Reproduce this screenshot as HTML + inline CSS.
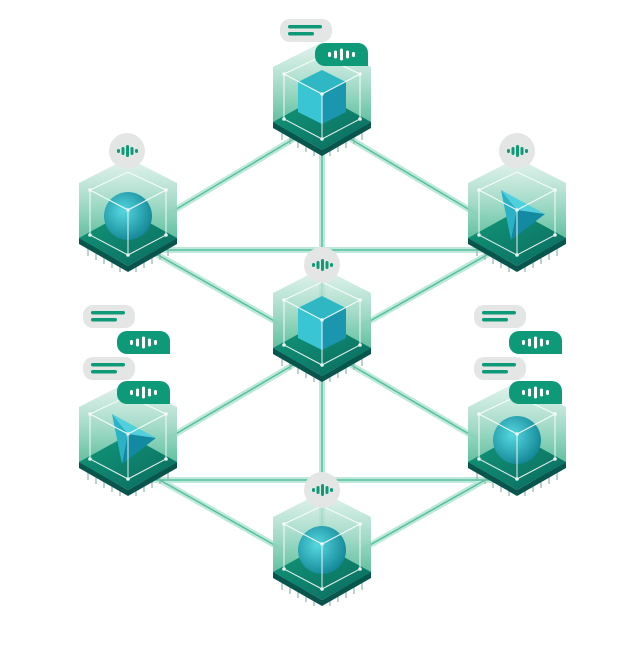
<!DOCTYPE html>
<html><head><meta charset="utf-8"><style>html,body{margin:0;padding:0;background:#fff}svg{display:block}</style></head>
<body>
<svg width="641" height="655" viewBox="0 0 641 655" xmlns="http://www.w3.org/2000/svg">
<defs>
<linearGradient id="hex" x1="0" y1="0" x2="0" y2="1">
<stop offset="0" stop-color="#d6eee5" stop-opacity="0.7"/><stop offset="0.6" stop-color="#7fcdb2"/><stop offset="1" stop-color="#3aa886"/></linearGradient>
<linearGradient id="chipTop" x1="0" y1="0" x2="1" y2="1">
<stop offset="0" stop-color="#12987a"/><stop offset="1" stop-color="#0a6a5e"/></linearGradient>
<radialGradient id="sph" cx="0.4" cy="0.4" r="0.7"><stop offset="0" stop-color="#56d8e0"/><stop offset="1" stop-color="#0d7f90"/></radialGradient>
<g id="chip">
<g stroke="#8fb5aa" stroke-width="1.2">
<path d="M-40 8v10M-32 12v10M-24 16v10M-16 20v10M-8 24v10M40 8v10M32 12v10M24 16v10M16 20v10M8 24v10"/></g>
<polygon points="0,-80 49,-55 49,2 0,27 -49,2 -49,-55" fill="url(#hex)"/>
<polygon points="-49,0 0,28 49,0 49,6 0,34 -49,6" fill="#08554d"/>
<polygon points="-49,0 0,-27 49,0 0,28" fill="url(#chipTop)"/>
</g>
<g id="wire" stroke="#fff" stroke-width="1" fill="none" opacity="0.9">
<polygon points="-38,-48 0,-66 38,-48 38,-3 0,17 -38,-3"/>
<path d="M0,17V-28M-38,-48 0,-28 38,-48"/>
<g fill="#fff" stroke="none"><circle cx="-38" cy="-48" r="1.8"/><circle cx="38" cy="-48" r="1.8"/><circle cx="-38" cy="-3" r="1.8"/><circle cx="38" cy="-3" r="1.8"/><circle cx="0" cy="17" r="1.8"/><circle cx="0" cy="-28" r="1.8"/></g>
</g>
<g id="cube">
<polygon points="0,-52 24,-40 0,-28 -24,-40" fill="#2fb8c4"/>
<polygon points="-24,-40 0,-28 0,2 -24,-10" fill="#3ac5d4"/>
<polygon points="24,-40 0,-28 0,2 24,-10" fill="#1a97ae"/>
</g>
<g id="sphere"><circle cx="0" cy="-22" r="24" fill="url(#sph)"/></g>
<g id="pyr">
<polygon points="-16,-48 28,-24 0,-28" fill="#4fd0dc"/>
<polygon points="-16,-48 0,-28 -6,2" fill="#2bb2c6"/>
<polygon points="0,-28 28,-24 -6,2" fill="#138aa2"/>
</g>
<g id="wave" fill="#0e9a78">
<rect x="-9" y="-2" width="3" height="4" rx="1.5"/><rect x="-4.5" y="-4" width="3" height="8" rx="1.5"/><rect x="0" y="-6" width="3" height="12" rx="1.5"/><rect x="4.5" y="-4" width="3" height="8" rx="1.5"/><rect x="9" y="-2" width="3" height="4" rx="1.5"/>
</g>
<g id="wavew" fill="#fff">
<rect x="-13" y="-2.5" width="3" height="5" rx="1.5"/><rect x="-7" y="-4" width="3" height="8" rx="1.5"/><rect x="-1" y="-6" width="3" height="12" rx="1.5"/><rect x="5" y="-4" width="3" height="8" rx="1.5"/><rect x="11" y="-2.5" width="3" height="5" rx="1.5"/>
</g>
<g id="badge"><circle r="18" fill="#e4e6e6"/><use href="#wave" x="-1"/></g>
<g id="gb"><rect x="0" y="0" width="52" height="23" rx="10" fill="#e4e6e6"/><rect x="8" y="6" width="34" height="3.5" rx="1.7" fill="#0e9a78"/><rect x="8" y="13" width="26" height="3.5" rx="1.7" fill="#0e9a78"/></g>
<g id="grb"><path d="M10 0H43a10 10 0 0 1 10 10V23H10A10 10 0 0 1 0 13V10A10 10 0 0 1 10 0z" fill="#0e9a78"/><use href="#wavew" x="26" y="11.5"/></g>
</defs>

<g stroke="#6fcfae" stroke-width="6" opacity="0.45" fill="none">
<path d="M322 122L128 238M322 122L517 238M322 122V348M128 250H517M128 238L322 348L517 238M322 348L128 462M322 348L517 462M322 348V572M128 480H517M128 462L322 572L517 462"/>
</g>
<g stroke="#3db592" stroke-width="1.5" opacity="0.8" fill="none">
<path d="M322 122L128 238M322 122L517 238M322 122V348M128 250H517M128 238L322 348L517 238M322 348L128 462M322 348L517 462M322 348V572M128 480H517M128 462L322 572L517 462"/>
</g>

<g transform="translate(322,122)"><use href="#chip"/><use href="#cube"/><use href="#wire"/></g>
<g transform="translate(128,238)"><use href="#chip"/><use href="#sphere"/><use href="#wire"/></g>
<g transform="translate(517,238)"><use href="#chip"/><use href="#pyr"/><use href="#wire"/></g>
<g transform="translate(322,348)"><use href="#chip"/><use href="#cube"/><use href="#wire"/></g>
<g transform="translate(128,462)"><use href="#chip"/><use href="#pyr"/><use href="#wire"/></g>
<g transform="translate(517,462)"><use href="#chip"/><use href="#sphere"/><use href="#wire"/></g>
<g transform="translate(322,572)"><use href="#chip"/><use href="#sphere"/><use href="#wire"/></g>

<use href="#badge" x="127" y="151"/>
<use href="#badge" x="517" y="151"/>
<use href="#badge" x="322" y="265"/>
<use href="#badge" x="322" y="490"/>

<use href="#gb" x="280" y="19"/><use href="#grb" x="315" y="43"/>
<use href="#gb" x="83" y="305"/><use href="#grb" x="117" y="331"/>
<use href="#gb" x="83" y="357"/><use href="#grb" x="117" y="381"/>
<use href="#gb" x="474" y="305"/><use href="#grb" x="509" y="331"/>
<use href="#gb" x="474" y="357"/><use href="#grb" x="509" y="381"/>
</svg>
</body></html>
